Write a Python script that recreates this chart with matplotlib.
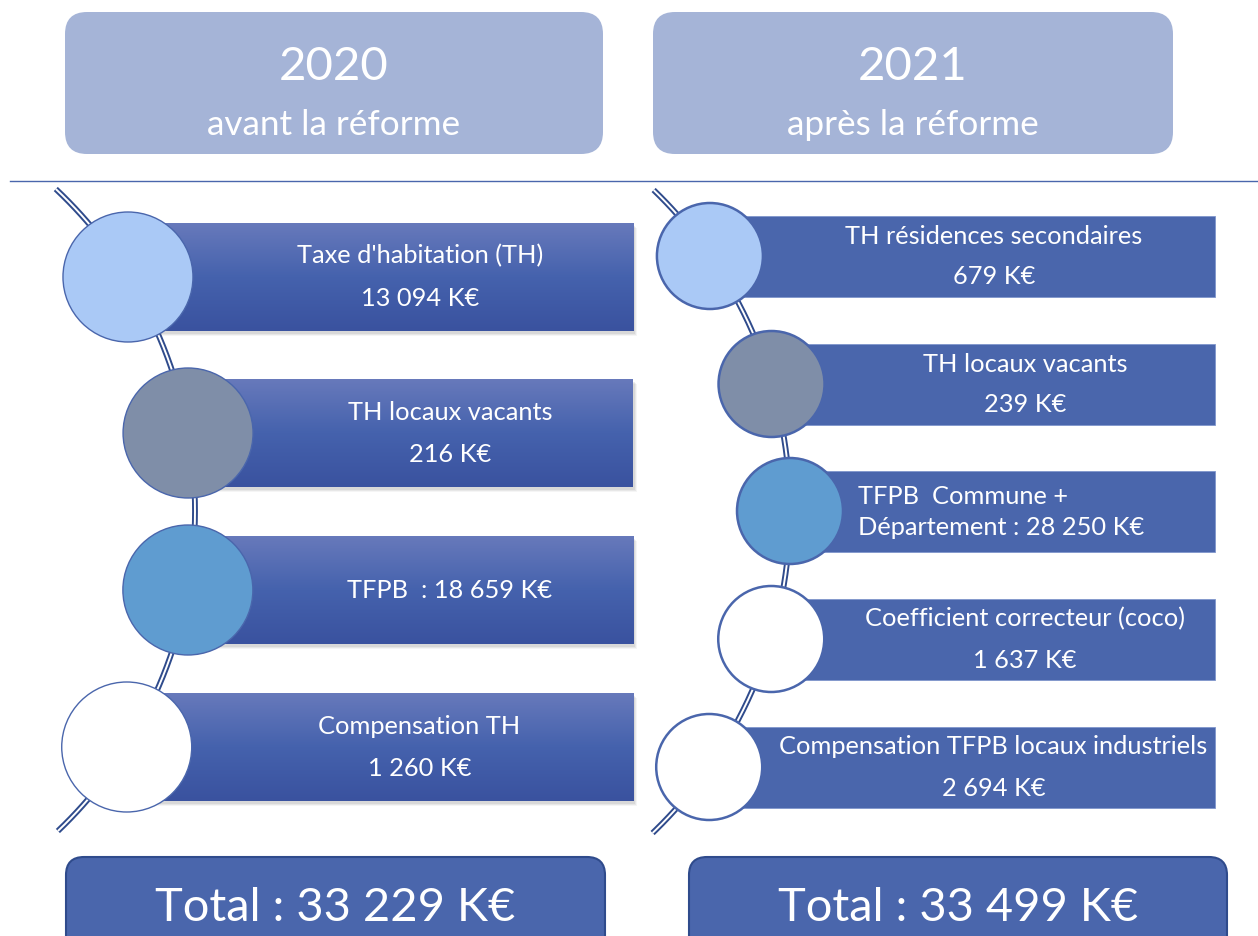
import numpy as np
import matplotlib.pyplot as plt
from matplotlib.patches import FancyBboxPatch, Rectangle, Circle
from matplotlib.colors import LinearSegmentedColormap

plt.rcParams['font.family'] = ['Lato', 'DejaVu Sans']

# ---- data ----
years = ['2020', '2021']
subtitles = ['avant la réforme', 'après la réforme']
totals = ['Total : 33 229 K€', 'Total : 33 499 K€']

labels_2020 = ["Taxe d'habitation (TH)", 'TH locaux vacants', 'TFPB  : 18 659 K€', 'Compensation TH']
values_2020 = ['13 094 K€', '216 K€', '', '1 260 K€']
colors_2020 = ['#AAC9F6', '#7F8EA8', '#5F9CD0', '#FFFFFF']

labels_2021 = ['TH résidences secondaires', 'TH locaux vacants',
               'TFPB  Commune +\nDépartement : 28 250 K€',
               'Coefficient correcteur (coco)', 'Compensation TFPB locaux industriels']
values_2021 = ['679 K€', '239 K€', '', '1 637 K€', '2 694 K€']
colors_2021 = ['#AAC9F6', '#7F8EA8', '#5F9CD0', '#FFFFFF', '#FFFFFF']

# ---- layout ----
W, H = 1258, 936
BLUE = '#4A66AC'
DARK = '#2F4B8C'
FS = 18.3

fig = plt.figure(figsize=(W / 100, H / 100), dpi=100)
ax = fig.add_axes([0, 0, 1, 1])
ax.set_xlim(0, W)
ax.set_ylim(H, 0)
ax.axis('off')


def arc_x(y, x_mid, R, y_mid=511):
    return x_mid - (R - np.sqrt(R ** 2 - (y - y_mid) ** 2))


grad = LinearSegmentedColormap.from_list('bar', ['#6779BB', '#4562AD', '#3A529F'])

# header boxes
for x0, x1, yr, sub in [(65, 603, years[0], subtitles[0]), (653, 1173, years[1], subtitles[1])]:
    ax.add_patch(FancyBboxPatch((x0, 12), x1 - x0, 142,
                                boxstyle='round,pad=0,rounding_size=22',
                                fc='#A5B4D7', ec='none'))
    cx = (x0 + x1) / 2
    ax.text(cx, 67, yr, color='white', fontsize=34, ha='center', va='center')
    ax.text(cx, 125, sub, color='white', fontsize=25.3, ha='center', va='center')

ax.plot([10, W], [181, 181], color=BLUE, lw=1)

# ---- 2020 column ----
ys = np.linspace(189, 831, 200)
xs = arc_x(ys, 195, 442)
ax.plot(xs, ys, color=DARK, lw=4.2, solid_capstyle='butt', zorder=1)
ax.plot(xs, ys, color='white', lw=1.4, solid_capstyle='butt', zorder=1.1)

centers_2020 = [277, 433, 590, 747]
r1 = 65
bar_right = 633
for cy, lab, val, col in zip(centers_2020, labels_2020, values_2020, colors_2020):
    cx = arc_x(cy, 195, 442)
    bh = 108
    y0 = cy - bh / 2
    # shadow
    for k, a in enumerate([0.10, 0.08, 0.06]):
        ax.add_patch(Rectangle((cx + 1 + k, y0 + 3 + k), bar_right - cx + 1, bh,
                               fc='#555555', ec='none', alpha=a, zorder=1.5))
    g = np.linspace(0, 1, 100).reshape(-1, 1)
    ax.imshow(g, cmap=grad, aspect='auto', extent=[cx, bar_right, y0 + bh, y0],
              zorder=2)
    ax.add_patch(Circle((cx, cy), r1, fc=col, ec=BLUE, lw=1.0, zorder=3))
    tx = (cx + r1 + bar_right) / 2 + 7
    if val:
        ax.text(tx, cy - 21, lab, color='white', fontsize=FS, ha='center', va='center', zorder=4)
        ax.text(tx, cy + 22, val, color='white', fontsize=FS, ha='center', va='center', zorder=4)
    else:
        ax.text(tx, cy + 1, lab, color='white', fontsize=FS, ha='center', va='center', zorder=4)

# ---- 2021 column ----
ys = np.linspace(190, 833, 200)
xs = arc_x(ys, 790, 446)
ax.plot(xs, ys, color=DARK, lw=4.2, solid_capstyle='butt', zorder=1)
ax.plot(xs, ys, color='white', lw=1.4, solid_capstyle='butt', zorder=1.1)

centers_2021 = [256, 384, 511, 639, 767]
r2 = 53
bar_right2 = 1215
for cy, lab, val, col in zip(centers_2021, labels_2021, values_2021, colors_2021):
    cx = arc_x(cy, 790, 446)
    bh = 81
    ax.add_patch(Rectangle((cx, cy - bh / 2), bar_right2 - cx, bh,
                           fc=BLUE, ec='#8096CC', lw=0.6, zorder=2))
    ax.add_patch(Circle((cx, cy), r2, fc=col, ec=BLUE, lw=1.8, zorder=3))
    tx = (cx + r2 + bar_right2) / 2 + 5
    if val:
        ax.text(tx, cy - 20, lab, color='white', fontsize=FS, ha='center', va='center', zorder=4)
        ax.text(tx, cy + 21, val, color='white', fontsize=FS, ha='center', va='center', zorder=4)
    else:
        ax.text(cx + r2 + 15, cy + 1, lab, color='white', fontsize=FS, ha='left', va='center',
                linespacing=1.4, zorder=4)

# ---- totals ----
for x0, x1, tot in [(66, 605, totals[0]), (689, 1227, totals[1])]:
    ax.add_patch(FancyBboxPatch((x0, 857), x1 - x0, 110,
                                boxstyle='round,pad=0,rounding_size=18',
                                fc=BLUE, ec=DARK, lw=1.5))
    ax.text((x0 + x1) / 2, 908, tot, color='white', fontsize=33.8, ha='center', va='center')

fig.savefig('out.png', dpi=100)
